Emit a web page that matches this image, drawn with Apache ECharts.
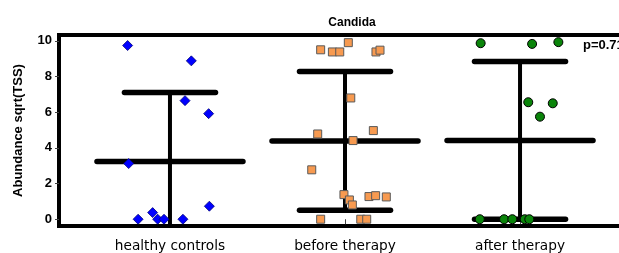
<!DOCTYPE html>
<html style="height: 100%">
<head>
<meta charset="utf-8">
<title>Candida</title>
<script src="https://cdn.jsdelivr.net/npm/echarts@6.0.0/dist/echarts.min.js"></script>
</head>
<body style="height: 100%; margin: 0; background: #fff">
<div id="target" style="width: 619px; height: 253px"></div>
<script>
// group names and positions on the x value axis
const groupNames = ["healthy controls", "before therapy", "after therapy"];
const groupPos = [1, 2, 3];

// mean and mean +/- sd
const groupMean = [3.23, 4.39, 4.41];
const groupLow = [-0.64, 0.50, 0.00];
const groupHigh = [7.10, 8.28, 8.84];

// jittered points per group
const healthyX = [0.758, 1.122, 1.086, 1.221, 0.764, 1.225, 0.901, 0.818, 0.930, 0.966, 1.074];
const healthyY = [9.74, 8.88, 6.65, 5.92, 3.12, 0.73, 0.37, 0.0, 0.0, 0.0, 0.0];

const beforeX = [2.019, 1.861, 1.928, 1.970, 2.177, 2.200, 2.033, 1.844, 2.162, 2.046,
                 1.810, 1.994, 2.025, 2.042, 2.137, 2.175, 2.236, 1.861, 2.090, 2.124];
const beforeY = [9.90, 9.50, 9.38, 9.38, 9.38, 9.48, 6.80, 4.78, 4.97, 4.41,
                 2.77, 1.38, 1.08, 0.80, 1.27, 1.32, 1.25, 0.0, 0.0, 0.0];

const afterX = [2.775, 3.069, 3.219, 3.047, 3.187, 3.114, 2.770, 2.909, 2.956, 3.027, 3.053];
const afterY = [9.87, 9.83, 9.93, 6.56, 6.50, 5.75, 0.0, 0.0, 0.0, 0.0, 0.0];

const yTicks = [0, 2, 4, 6, 8, 10];
const pText = "p=0.71";

let chart = echarts.init(document.getElementById('target'));

let pairs = (xs, ys) => xs.map((x, i) => [x, ys[i]]);

let barData = groupPos.map((x, i) => [x, groupMean[i], groupLow[i], groupHigh[i]]);

let renderBar = (params, api) => {
    let x = api.value(0);
    let mean = api.value(1);
    let lo = api.value(2);
    let hi = api.value(3);
    let hline = (v, half, w) => {
        let a = api.coord([x - half, v]);
        let b = api.coord([x + half, v]);
        return {
            type: 'line',
            shape: { x1: a[0], y1: a[1], x2: b[0], y2: b[1] },
            style: { stroke: '#000', lineWidth: w, lineCap: 'round' },
        };
    };
    let top = api.coord([x, hi]);
    let bot = api.coord([x, lo]);
    return {
        type: 'group',
        children: [
            {
                type: 'line',
                shape: { x1: top[0], y1: top[1], x2: bot[0], y2: bot[1] },
                style: { stroke: '#000', lineWidth: 4 },
            },
            hline(hi, 0.26, 5.5),
            hline(lo, 0.26, 5.5),
            hline(mean, 0.417, 5.5),
        ],
    };
};

let option = {
    animation: false,
    title: {
        text: 'Candida',
        left: 347,
        textAlign: 'center',
        top: 12,
        textStyle: { fontFamily: 'Liberation Sans', fontSize: 12, fontWeight: 'bold', color: '#000' },
    },
    grid: {
        left: 59,
        width: 572,
        top: 35,
        bottom: 27,
        show: true,
        borderColor: '#000',
        borderWidth: 4,
        containLabel: false,
        outerBoundsMode: 'none',
    },
    xAxis: {
        type: 'value',
        min: 0.366,
        max: 3.634,
        splitLine: { show: false },
        axisLine: { show: false },
        axisTick: { show: true, customValues: groupPos, length: 5, lineStyle: { color: '#444', width: 1 } },
        axisLabel: {
            customValues: groupPos,
            formatter: v => groupNames[Math.round(v) - 1],
            margin: 13,
            fontFamily: 'DejaVu Sans',
            fontSize: 13.7,
            color: '#000',
        },
    },
    yAxis: {
        type: 'value',
        min: -0.38,
        max: 10.33,
        name: 'Abundance sqrt(TSS)',
        nameLocation: 'middle',
        nameGap: 34,
        nameTextStyle: { fontFamily: 'Liberation Sans', fontSize: 13, fontWeight: 'bold', color: '#000' },
        splitLine: { show: false },
        axisLine: { show: false },
        axisTick: { show: true, customValues: yTicks, length: 4, lineStyle: { color: '#444', width: 1 } },
        axisLabel: {
            customValues: yTicks,
            margin: 7,
            fontFamily: 'Liberation Sans',
            fontSize: 13,
            fontWeight: 'bold',
            color: '#000',
        },
    },
    graphic: [
        {
            type: 'text',
            left: 583,
            top: 39,
            style: { text: pText, font: 'bold 13px "Liberation Sans"', fill: '#000' },
        },
    ],
    series: [
        {
            type: 'custom',
            renderItem: renderBar,
            data: barData,
            clip: true,
            z: 1,
        },
        {
            type: 'scatter',
            data: pairs(healthyX, healthyY),
            symbol: 'diamond',
            symbolSize: [10, 10],
            itemStyle: { color: '#0000ff', borderColor: '#00007a', borderWidth: 0.8, opacity: 1 },
            z: 3,
        },
        {
            type: 'scatter',
            data: pairs(beforeX, beforeY),
            symbol: 'rect',
            symbolSize: 8,
            itemStyle: { color: '#f79a50', borderColor: '#5a5a5a', borderWidth: 1, opacity: 1 },
            z: 3,
        },
        {
            type: 'scatter',
            data: pairs(afterX, afterY),
            symbol: 'circle',
            symbolSize: 9,
            itemStyle: { color: '#0a840a', borderColor: '#000', borderWidth: 1, opacity: 1 },
            z: 3,
        },
    ],
};

chart.setOption(option);
</script>
</body>
</html>
